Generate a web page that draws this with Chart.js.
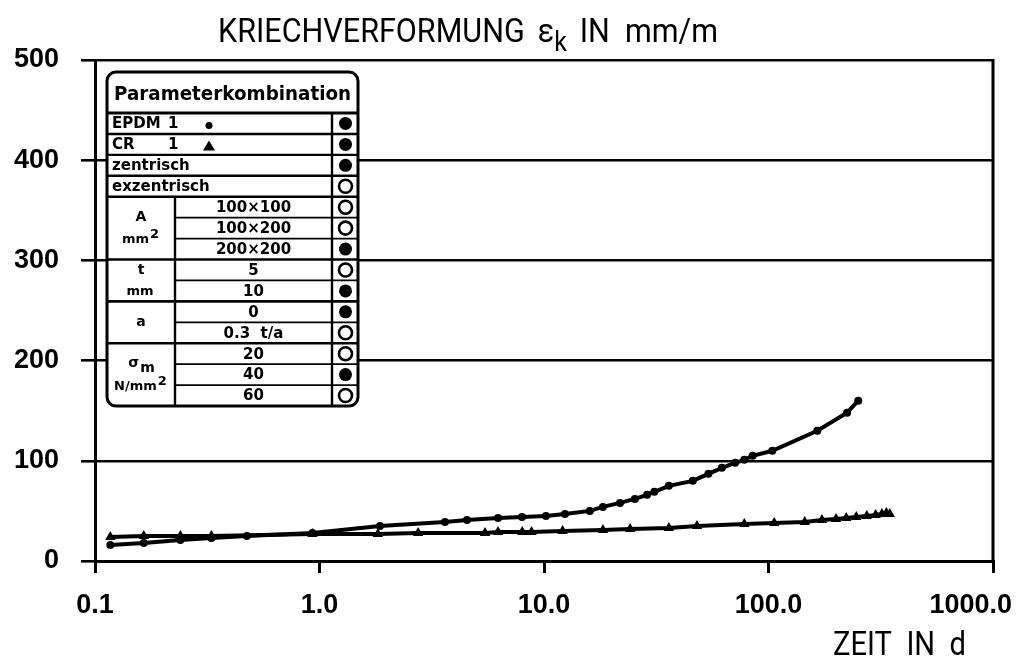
<!DOCTYPE html>
<html><head><meta charset="utf-8">
<script src="https://cdn.jsdelivr.net/npm/chart.js@4/dist/chart.umd.min.js"></script>
<style>html,body{margin:0;padding:0;background:#fff}#wrap{width:1016px;height:665px;position:relative}</style>
</head><body><div id="wrap"><canvas id="c" width="1016" height="665"></canvas></div>
<script>
// ---- data ----
const xTickValues = [0.1, 1, 10, 100, 1000];
const xTickLabels = ['0.1', '1.0', '10.0', '100.0', '1000.0'];
const yTickValues = [0, 100, 200, 300, 400, 500];

const epdmDays   = [0.117,0.165,0.24,0.33,0.475,0.93,1.86,3.62,4.54,6.24,7.98,10.2,12.4,16.0,18.3,21.8,25.4,28.8,31,36,46,54,62,71,78,85,104,165,224,251];
const epdmStrain = [16,18,21,23,25,28,35,39,41,43,44,45,47,50,54,58,62,66,69,75,80,87,93,98,101,105,110,130,148,160];

const crDays   = [0.117,0.165,0.24,0.33,0.93,1.82,2.75,5.46,6.24,8.0,8.8,12.1,18.3,24.2,36,48,78,106,145,173,200,222,246,274,300,320,335,347];
const crStrain = [24,25,25,25,27,27,28,28,29,29,29,30,31,32,33,35,37,38,39,41,42,43,44,45,46,47,48,47];

const titleMain = 'KRIECHVERFORMUNG';
const titleSymbol = 'ε';
const titleSub = 'k';
const titleUnit = 'IN  mm/m';
const xTitle = 'ZEIT  IN  d';

const tableHeader = 'Parameterkombination';
const topRowLabels = ['EPDM', 'CR', 'zentrisch', 'exzentrisch'];
const topRowCodes = ['1', '1', '', ''];
const topRowFilled = [true, true, true, false];
const groupLabels = [['A', 'mm²'], ['t', 'mm'], ['a'], ['σm', 'N/mm²']];
const groupValues = [['100×100', '100×200', '200×200'], ['5', '10'], ['0', '0.3  t/a'], ['20', '40', '60']];
const groupFilled = [[false, false, true], [false, true], [true, false], [false, true, false]];

// ---- drawing helpers ----
const TF = '"DejaVu Sans"';
function drawSupSub(ctx, text, cx, cy, size) {
  let base = text, extra = '', mode = '';
  if (text.endsWith('²')) { base = text.slice(0, -1); extra = '2'; mode = 'sup'; }
  else if (text === 'σm') { base = 'σ'; extra = 'm'; mode = 'sub'; }
  ctx.font = 'bold ' + size + 'px ' + TF;
  const wb = ctx.measureText(base).width;
  const we = extra ? ctx.measureText(extra).width : 0;
  const x0 = cx - (wb + we) / 2;
  ctx.textAlign = 'left'; ctx.textBaseline = 'middle';
  ctx.fillText(base, x0, cy);
  if (extra) ctx.fillText(extra, x0 + wb + 1, cy + (mode === 'sup' ? -5 : 5));
}

// draw text horizontally fitted between x0 and x1
function fitText(ctx, pieces, x0, x1, baseline) {
  let total = 0;
  pieces.forEach(p => { ctx.font = p.font; total += ctx.measureText(p.t).width + (p.gap || 0); });
  const k = (x1 - x0) / total;
  ctx.save();
  ctx.translate(x0, baseline); ctx.scale(k, 1);
  let x = 0;
  ctx.textAlign = 'left'; ctx.textBaseline = 'alphabetic';
  pieces.forEach(p => { ctx.font = p.font; ctx.fillText(p.t, x, p.dy || 0); x += ctx.measureText(p.t).width + (p.gap || 0); });
  ctx.restore();
}

const decorPlugin = {
  id: 'decor',
  afterDraw(chart) {
    const ctx = chart.ctx;
    const a = chart.chartArea;
    const xs = chart.scales.x;
    const W = chart.width;
    ctx.save();
    ctx.fillStyle = '#000'; ctx.strokeStyle = '#000';

    // right frame line
    ctx.lineWidth = 3;
    ctx.beginPath(); ctx.moveTo(a.right, a.top - 1); ctx.lineTo(a.right, a.bottom); ctx.stroke();

    // x tick labels
    ctx.font = 'bold 27px "Liberation Sans"';
    ctx.textBaseline = 'alphabetic'; ctx.textAlign = 'center';
    xTickValues.forEach((v, i) => {
      const w = ctx.measureText(xTickLabels[i]).width;
      let px = xs.getPixelForValue(v);
      px = Math.min(px, W - 4 - w / 2);
      ctx.fillText(xTickLabels[i], px, a.bottom + 52);
    });

    // title
    const tf = '400 33px Roboto';
    const sf = '400 27px Roboto';
    fitText(ctx, [
      { t: titleMain, font: tf, gap: 14 },
      { t: titleSymbol, font: tf },
      { t: titleSub, font: sf, dy: 9, gap: 14 },
      { t: titleUnit, font: tf }
    ], 218, 718, 42);

    // x axis title
    fitText(ctx, [{ t: xTitle, font: tf }], 833, 966, 655);

    // ---- parameter table ----
    const L = 107, R = 358, T = 72, HB = 113, B = 406, C1 = 175, C2 = 332;
    const nRows = topRowLabels.length + groupValues.reduce((s, g) => s + g.length, 0);
    const rh = (B - HB) / nRows;
    ctx.fillStyle = '#fff';
    ctx.beginPath(); ctx.roundRect(L, T, R - L, B - T, 9); ctx.fill();
    ctx.fillStyle = '#000';
    ctx.lineWidth = 3;
    ctx.beginPath(); ctx.roundRect(L, T, R - L, B - T, 9); ctx.stroke();
    ctx.beginPath(); ctx.moveTo(L, HB); ctx.lineTo(R, HB); ctx.stroke();

    fitText(ctx, [{ t: tableHeader, font: 'bold 20px ' + TF }], 114, 351, 100);

    // vertical dividers
    ctx.lineWidth = 2.4;
    ctx.beginPath(); ctx.moveTo(C2, HB); ctx.lineTo(C2, B); ctx.stroke();
    const gTop = HB + topRowLabels.length * rh;
    ctx.beginPath(); ctx.moveTo(C1, gTop); ctx.lineTo(C1, B); ctx.stroke();

    function circle(cy, filled) {
      ctx.beginPath(); ctx.arc((C2 + R) / 2 + 0.5, cy, 6.5, 0, Math.PI * 2);
      if (filled) ctx.fill(); else { ctx.lineWidth = 2.6; ctx.stroke(); }
    }

    // top rows
    topRowLabels.forEach((lab, i) => {
      const y0 = HB + i * rh, cy = y0 + rh / 2;
      if (i > 0) { ctx.lineWidth = 2.4; ctx.beginPath(); ctx.moveTo(L, y0); ctx.lineTo(R, y0); ctx.stroke(); }
      ctx.font = 'bold 15px ' + TF; ctx.textAlign = 'left'; ctx.textBaseline = 'middle';
      ctx.fillText(lab, 112, cy + 1);
      if (topRowCodes[i]) ctx.fillText(topRowCodes[i], 168, cy + 1);
      if (i === 0) { ctx.beginPath(); ctx.arc(209, cy + 2, 3.5, 0, Math.PI * 2); ctx.fill(); }
      if (i === 1) { ctx.beginPath(); ctx.moveTo(203, cy + 6); ctx.lineTo(215, cy + 6); ctx.lineTo(209, cy - 4); ctx.closePath(); ctx.fill(); }
      circle(cy, topRowFilled[i]);
    });

    // groups
    let r = topRowLabels.length;
    groupValues.forEach((vals, g) => {
      const gy0 = HB + r * rh, gy1 = gy0 + vals.length * rh;
      ctx.lineWidth = 2.6; ctx.beginPath(); ctx.moveTo(L, gy0); ctx.lineTo(R, gy0); ctx.stroke();
      vals.forEach((v, k) => {
        const y0 = gy0 + k * rh, cy = y0 + rh / 2;
        if (k > 0) { ctx.lineWidth = 1.8; ctx.beginPath(); ctx.moveTo(C1, y0); ctx.lineTo(R, y0); ctx.stroke(); }
        ctx.font = 'bold 15px ' + TF; ctx.textAlign = 'center'; ctx.textBaseline = 'middle';
        ctx.fillText(v, (C1 + C2) / 2, cy + 1);
        circle(cy, groupFilled[g][k]);
      });
      const labs = groupLabels[g];
      const gc = (gy0 + gy1) / 2;
      if (labs.length === 1) drawSupSub(ctx, labs[0], (L + C1) / 2, gc, 14);
      else {
        const off = Math.min(11, (gy1 - gy0) / 4);
        drawSupSub(ctx, labs[0], (L + C1) / 2, gc - off, 14);
        drawSupSub(ctx, labs[1], (L + C1) / 2 - 1, gc + off + 1, 13);
      }
      r += vals.length;
    });
    ctx.restore();
  }
};

const toXY = (xs, ys) => xs.map((x, i) => ({ x, y: ys[i] }));

new Chart(document.getElementById('c'), {
  type: 'scatter',
  data: {
    datasets: [
      { label: 'EPDM 1', data: toXY(epdmDays, epdmStrain), showLine: true, borderColor: '#000', backgroundColor: '#000',
        borderWidth: 4, pointStyle: 'circle', pointRadius: 4, pointBorderWidth: 0, tension: 0 },
      { label: 'CR 1', data: toXY(crDays, crStrain), showLine: true, borderColor: '#000', backgroundColor: '#000',
        borderWidth: 4, pointStyle: 'triangle', pointRadius: 6, pointBorderWidth: 0, tension: 0 }
    ]
  },
  options: {
    responsive: false, animation: false,
    layout: { padding: { left: 0, right: 23, top: 60, bottom: 0 } },
    plugins: { legend: { display: false }, tooltip: { enabled: false }, title: { display: false } },
    scales: {
      x: {
        type: 'logarithmic', min: 0.1, max: 1000,
        afterBuildTicks: s => { s.ticks = xTickValues.map(v => ({ value: v })); },
        afterFit: s => { s.height = 104; },
        ticks: { display: false },
        grid: { drawOnChartArea: false, drawTicks: true, tickLength: 12, color: '#000', lineWidth: 3 },
        border: { display: true, color: '#000', width: 3 }
      },
      y: {
        min: 0, max: 500,
        afterBuildTicks: s => { s.ticks = yTickValues.map(v => ({ value: v })); },
        afterFit: s => { s.width = 95; },
        ticks: { color: '#000', padding: 22, font: { family: '"Liberation Sans"', weight: 'bold', size: 27 } },
        grid: { color: '#000', lineWidth: 2.6, tickLength: 14, drawTicks: true },
        border: { display: true, color: '#000', width: 3 }
      }
    }
  },
  plugins: [decorPlugin]
});
</script></body></html>
